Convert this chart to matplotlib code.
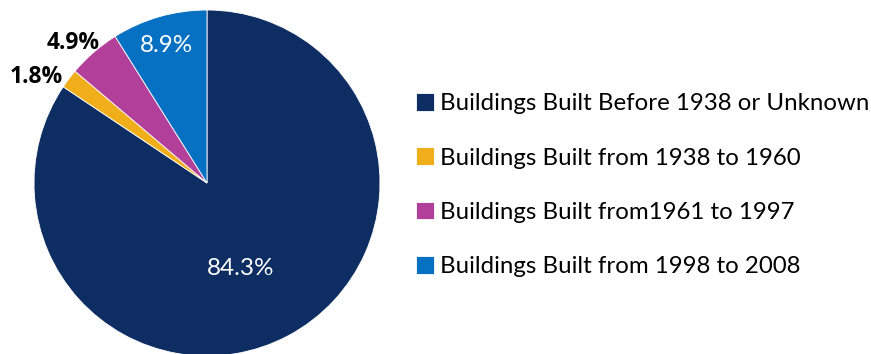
import numpy as np
import matplotlib.pyplot as plt

labels = ["Buildings Built Before 1938 or Unknown",
          "Buildings Built from 1938 to 1960",
          "Buildings Built from1961 to 1997",
          "Buildings Built from 1998 to 2008"]
shares = [84.3, 1.8, 4.9, 8.9]
colors = ["#0E2D62", "#F1AE1B", "#B2409A", "#0671C2"]

plt.rcParams["font.family"] = ["Lato", "DejaVu Sans"]

fig = plt.figure(figsize=(8.71, 3.54), dpi=100)
ax = fig.add_axes([0, 0, 1, 1])

cx, cy, r = 207, 171, 173
wedges, _ = ax.pie(shares, colors=colors, startangle=90, counterclock=False,
                   center=(cx, cy), radius=r, frame=True,
                   wedgeprops=dict(edgecolor="white", linewidth=0.6))
ax.set_xlim(0, 871)
ax.set_ylim(0, 354)
ax.set_aspect("equal")
ax.axis("off")

# label distance (fraction of radius), angle nudge (deg), colour, bold
label_style = [(0.53, -7, "white", False), (1.16, 5, "black", True),
               (1.12, 2.5, "black", True), (0.83, 0, "white", False)]
start = 90.0
for val, (dist, nudge, col, bold) in zip(shares, label_style):
    span = val / 100 * 360
    mid = np.deg2rad(start - span / 2 + nudge)
    start -= span
    kw = dict(family=["Open Sans", "DejaVu Sans"], fontweight="bold",
              fontsize=16.5) if bold else dict(fontsize=17.5)
    ax.text(cx + dist * r * np.cos(mid), cy + dist * r * np.sin(mid),
            f"{val}%", color=col, ha="center", va="center", **kw)

leg = fig.legend(wedges, labels, loc="upper left", bbox_to_anchor=(0.478, 0.737),
                 frameon=False, fontsize=17.3, handlelength=0.75, handleheight=0.75,
                 handletextpad=0.25, labelspacing=1.38, borderpad=0,
                 borderaxespad=0)

fig.savefig("out.png", dpi=100)
